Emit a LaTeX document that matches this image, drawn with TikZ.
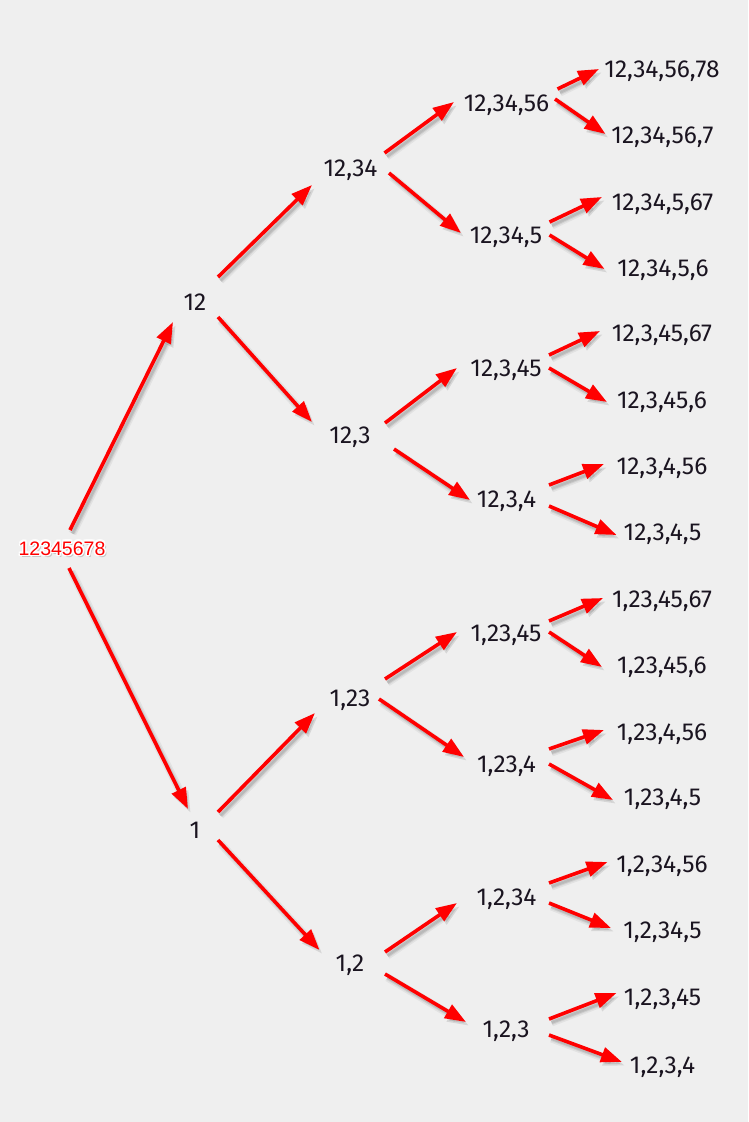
\documentclass[tikz,border=0pt]{standalone}
\usepackage{fontspec}
\setmainfont{Fira Sans}
\newfontfamily\rootfont{Liberation Sans}
\usetikzlibrary{calc,arrows.meta}
\definecolor{bgc}{HTML}{EFEFEF}
\definecolor{txt}{HTML}{1A1420}
\definecolor{arrred}{HTML}{FF0000}
\newcommand\halotext[1]{\leavevmode
  \rlap{\color{black!22}\kern2pt\raisebox{-2.5pt}{#1}}%
  \rlap{\color{white}\kern1.6pt#1}\rlap{\color{white}\kern-1.6pt#1}%
  \rlap{\color{white}\raisebox{1.6pt}{#1}}\rlap{\color{white}\raisebox{-1.6pt}{#1}}%
  \rlap{\color{white}\kern1.15pt\raisebox{1.15pt}{#1}}\rlap{\color{white}\kern-1.15pt\raisebox{1.15pt}{#1}}%
  \rlap{\color{white}\kern1.15pt\raisebox{-1.15pt}{#1}}\rlap{\color{white}\kern-1.15pt\raisebox{-1.15pt}{#1}}%
  {\color{arrred}#1}}
\tikzset{
  lbl/.style={font=\fontsize{24.5}{28}\selectfont, text=txt, inner sep=0pt, text height=17pt, text depth=0pt},
  rootlbl/.style={font=\rootfont\fontsize{19.5}{23}\selectfont, inner sep=0pt, text height=14pt, text depth=0pt},
  arr/.style={draw=arrred, line width=3.6pt, -{Triangle[length=21pt,width=15pt]},
    preaction={draw=black, opacity=0.05, line width=8pt, arrows=-, shorten >=14pt, transform canvas={shift={(2.5pt,-3.5pt)}}},
    preaction={draw=black, opacity=0.07, line width=5pt, arrows=-, shorten >=14pt, transform canvas={shift={(2.5pt,-3.5pt)}}},
    preaction={draw=black, fill=black, opacity=0.10, line width=3pt, transform canvas={shift={(2.5pt,-3.5pt)}}}}
}
\begin{document}
\begin{tikzpicture}[x=1pt,y=-1pt]
\fill[bgc] (0,0) rectangle (748,1122);
\useasboundingbox (0,0) rectangle (748,1122);
% root
\node[rootlbl] (r) at (62,548) {\halotext{12345678}};
% level 1
\node[lbl] (n12) at (195,302) {12};
\node[lbl] (n1) at (195,830) {1};
% level 2
\node[lbl] (a) at (350.5,168) {12,34};
\node[lbl] (b) at (350,435) {12,3};
\node[lbl] (c) at (350,698) {1,23};
\node[lbl] (d) at (350,963) {1,2};
% level 3
\node[lbl] (a1) at (506.5,103) {12,34,56};
\node[lbl] (a2) at (506,235) {12,34,5};
\node[lbl] (b1) at (506,368) {12,3,45};
\node[lbl] (b2) at (506.5,499) {12,3,4};
\node[lbl] (c1) at (506,633) {1,23,45};
\node[lbl] (c2) at (506.5,764) {1,23,4};
\node[lbl] (d1) at (506.5,897) {1,2,34};
\node[lbl] (d2) at (506,1029) {1,2,3};
% level 4
\node[lbl] (a11) at (662,69) {12,34,56,78};
\node[lbl] (a12) at (662.5,135) {12,34,56,7};
\node[lbl] (a21) at (662.5,202) {12,34,5,67};
\node[lbl] (a22) at (663,268) {12,34,5,6};
\node[lbl] (b11) at (662,333) {12,3,45,67};
\node[lbl] (b12) at (662,400) {12,3,45,6};
\node[lbl] (b21) at (662,466) {12,3,4,56};
\node[lbl] (b22) at (662.5,532) {12,3,4,5};
\node[lbl] (c11) at (662,599) {1,23,45,67};
\node[lbl] (c12) at (662,665) {1,23,45,6};
\node[lbl] (c21) at (662,732) {1,23,4,56};
\node[lbl] (c22) at (662.5,797) {1,23,4,5};
\node[lbl] (d11) at (662,864) {1,2,34,56};
\node[lbl] (d12) at (662.5,930) {1,2,34,5};
\node[lbl] (d21) at (662.5,997) {1,2,3,45};
\node[lbl] (d22) at (662.5,1065) {1,2,3,4};
% edges level 0 -> 1
\draw[arr] ($(r)+(8,-18)$) -- ($(n12)+(-22,20)$);
\draw[arr] ($(r)+(7,20)$) -- ($(n1)+(-7,-21)$);
% level 1 -> 2
\draw[arr] ($(n12)+(23,-25)$) -- ($(a)+(-38.5,17)$);
\draw[arr] ($(n12)+(23,15)$) -- ($(b)+(-38,-13)$);
\draw[arr] ($(n1)+(23,-18)$) -- ($(c)+(-35,15)$);
\draw[arr] ($(n1)+(23,10)$) -- ($(d)+(-30.5,-13)$);
% level 2 -> 3
\draw[arr] ($(a)+(34,-15)$) -- ($(a1)+(-52.5,-1)$);
\draw[arr] ($(a)+(38.5,5)$) -- ($(a2)+(-45,-2)$);
\draw[arr] ($(b)+(35,-12)$) -- ($(b1)+(-49,0)$);
\draw[arr] ($(b)+(44,14)$) -- ($(b2)+(-36.5,1)$);
\draw[arr] ($(c)+(35,-19)$) -- ($(c1)+(-49,-1)$);
\draw[arr] ($(c)+(29,1)$) -- ($(c2)+(-42.5,-7)$);
\draw[arr] ($(d)+(35,-11)$) -- ($(d1)+(-49.5,6)$);
\draw[arr] ($(d)+(35,11)$) -- ($(d2)+(-40,-7)$);
% level 3 -> 4
\draw[arr] ($(a1)+(51,-14)$) -- ($(a11)+(-63,0)$);
\draw[arr] ($(a1)+(48.5,-4)$) -- ($(a12)+(-57,-1)$);
\draw[arr] ($(a2)+(43.5,-13)$) -- ($(a21)+(-60.5,-5)$);
\draw[arr] ($(a2)+(43.5,0)$) -- ($(a22)+(-58.5,1)$);
\draw[arr] ($(b1)+(43,-13)$) -- ($(b11)+(-62,-2)$);
\draw[arr] ($(b1)+(43,0)$) -- ($(b12)+(-55,2)$);
\draw[arr] ($(b2)+(42.5,-14)$) -- ($(b21)+(-58,-2)$);
\draw[arr] ($(b2)+(42.5,7)$) -- ($(b22)+(-46,3)$);
\draw[arr] ($(c1)+(43,-12)$) -- ($(c11)+(-59,-1)$);
\draw[arr] ($(c1)+(43,-1)$) -- ($(c12)+(-60,2)$);
\draw[arr] ($(c2)+(42.5,-15)$) -- ($(c21)+(-58,-2)$);
\draw[arr] ($(c2)+(42.5,0)$) -- ($(c22)+(-49.5,3)$);
\draw[arr] ($(d1)+(42.5,-14)$) -- ($(d11)+(-54.5,-2)$);
\draw[arr] ($(d1)+(42.5,6)$) -- ($(d12)+(-51.5,-2)$);
\draw[arr] ($(d2)+(43,-10)$) -- ($(d21)+(-46,-4)$);
\draw[arr] ($(d2)+(43,6)$) -- ($(d22)+(-40.5,-3)$);
\end{tikzpicture}
\end{document}
